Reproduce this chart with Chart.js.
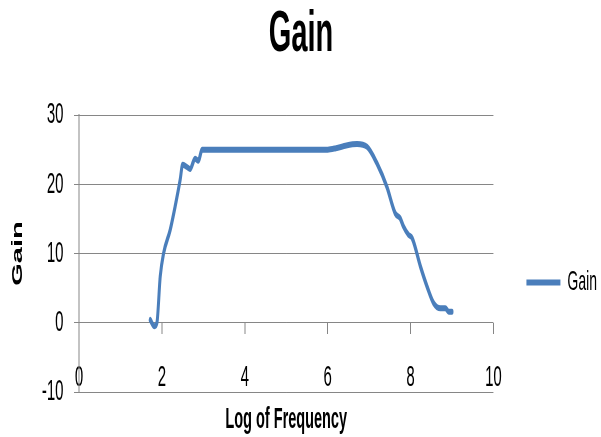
<!DOCTYPE html>
<html>
<head>
<meta charset="utf-8">
<title>Gain</title>
<script src="https://cdn.jsdelivr.net/npm/chart.js@4/dist/chart.umd.min.js"></script>
<style>
    html, body { margin: 0; padding: 0; background: #fff; overflow: hidden; }
    #wrap { width: 601px; height: 437px; overflow: hidden; position: relative; }
    /* the original picture is squeezed sideways, so draw wide and squeeze it */
    #gainChart { transform: scaleX(0.5); transform-origin: 0 0; }
</style>
</head>
<body>
<div id="wrap">
    <canvas id="gainChart" width="1202" height="437"></canvas>
</div>
<script>
// --- DATA ---
const logFreq = [1.72, 1.82, 1.88, 1.96, 2.04, 2.2, 2.32, 2.44, 2.5, 2.6, 2.68, 2.8, 2.88, 2.97,
    3.5, 4, 4.5, 5, 5.5, 6.0, 6.2, 6.45, 6.71, 6.95, 7.19, 7.43, 7.63, 7.75, 7.83, 7.95, 8.04,
    8.24, 8.4, 8.56, 8.72, 8.84, 8.92, 9.0];
const gain = [0.4, -0.5, 0, 6.7, 10, 13.4, 16.8, 20.6, 22.8, 22.5, 22.2, 23.7, 23.4, 25,
    25, 25, 25, 25, 25, 25, 25.2, 25.6, 25.8, 25.4, 23.0, 19.6, 15.8, 15.1, 13.9, 12.7, 12.2,
    8.1, 5.2, 2.8, 2.1, 2.1, 1.6, 1.6];
const xTicks = [0, 2, 4, 6, 8, 10];
const yTicks = [-10, 0, 10, 20, 30];

const lineBlue = '#4a7ebb';
const gridGray = '#868686';

Chart.defaults.font.family = "'Liberation Sans', Arial, sans-serif";
Chart.defaults.color = '#000';

const points = logFreq.map((x, i) => ({ x: x, y: gain[i] }));

new Chart(document.getElementById('gainChart'), {
    type: 'line',
    data: {
        datasets: [{
            label: 'Gain',
            data: points,
            xAxisID: 'x',
            yAxisID: 'y',
            borderColor: lineBlue,
            backgroundColor: lineBlue,
            borderWidth: 6,
            borderCapStyle: 'round',
            borderJoinStyle: 'round',
            pointRadius: 0,
            cubicInterpolationMode: 'monotone',
            fill: false
        }]
    },
    options: {
        responsive: false,
        animation: false,
        layout: { padding: { left: 0, right: -2, top: 0, bottom: 0 } },
        plugins: {
            title: {
                display: true,
                text: 'Gain',
                font: { size: 58, weight: 'bold', lineHeight: 1 },
                padding: { top: 6, bottom: 51 }
            },
            legend: {
                position: 'right',
                fullSize: false,
                // empty title just pushes the entry down to where it sits in the picture
                title: { display: true, text: '', font: { size: 10, lineHeight: 1 }, padding: { top: 48, bottom: 0 } },
                labels: {
                    usePointStyle: true,
                    pointStyle: 'line',
                    pointStyleWidth: 68,
                    padding: 66,
                    font: { size: 28 }
                }
            },
            tooltip: { enabled: false }
        },
        scales: {
            x: {
                type: 'linear',
                position: 'bottom',
                min: 0,
                max: 10,
                afterBuildTicks: (scale) => { scale.ticks = xTicks.map(v => ({ value: v })); },
                afterFit: (scale) => { scale.height = 45; },
                grid: { display: false, drawTicks: false },
                border: { display: false },
                // mirror keeps the labels unclipped, sitting just above the -10 line
                ticks: { mirror: true, padding: -4, font: { size: 30 } },
                title: {
                    display: true,
                    text: 'Log of Frequency',
                    font: { size: 29, weight: 'bold', lineHeight: 1 },
                    padding: { top: 0, bottom: 3 }
                }
            },
            // tick marks hanging from the zero line
            x2: {
                type: 'linear',
                position: { y: 0 },
                min: 0,
                max: 10,
                afterBuildTicks: (scale) => { scale.ticks = xTicks.map(v => ({ value: v })); },
                grid: { drawOnChartArea: false, drawTicks: true, tickLength: 11, color: gridGray, lineWidth: 2 },
                border: { display: false },
                ticks: { display: false }
            },
            y: {
                type: 'linear',
                position: 'left',
                min: -10,
                max: 30,
                afterBuildTicks: (scale) => { scale.ticks = yTicks.map(v => ({ value: v })); },
                afterFit: (scale) => { scale.width = 158; },
                grid: { color: gridGray, lineWidth: 1, drawTicks: true, tickLength: 10 },
                border: { display: true, color: gridGray, width: 2 },
                ticks: { padding: 21, font: { size: 30 } },
                title: {
                    display: true,
                    text: 'Gain',
                    font: { size: 29, weight: 'bold', lineHeight: 1.2 },
                    padding: { top: 19, bottom: 0 }
                }
            }
        }
    }
});
</script>
</body>
</html>
